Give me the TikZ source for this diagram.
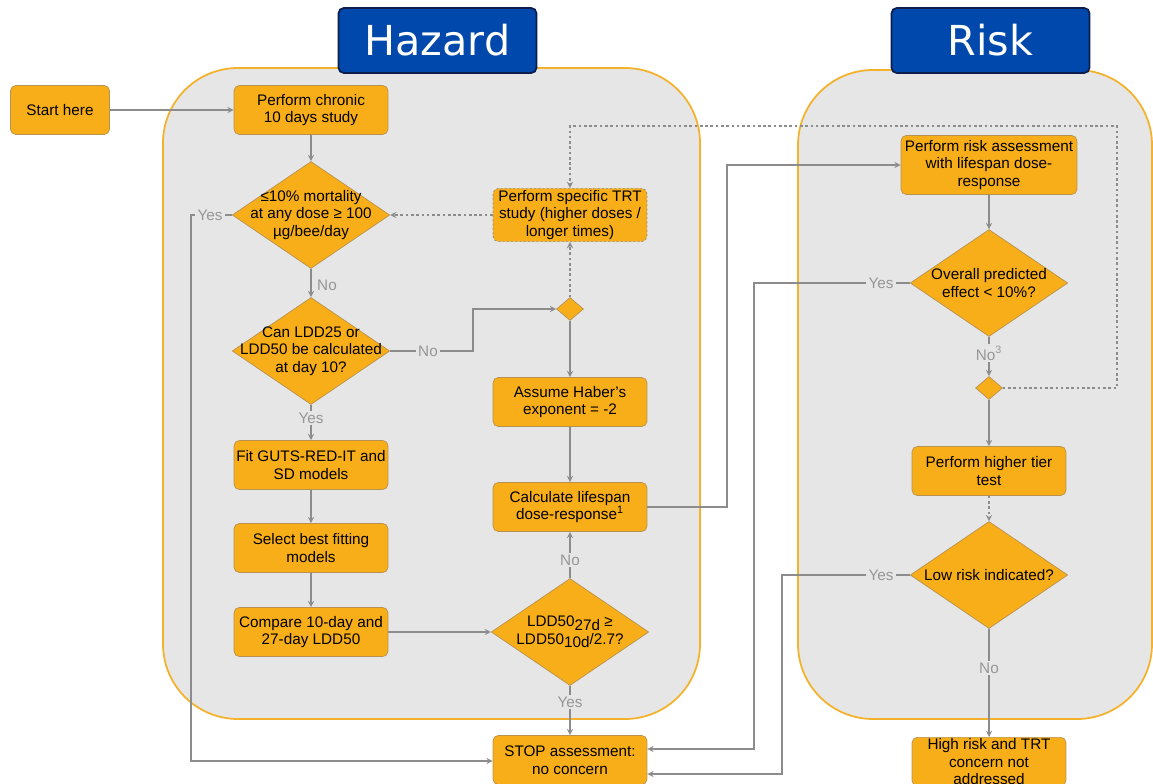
\documentclass[tikz,border=0pt]{standalone}
\usepackage{fontspec}
\setmainfont{Liberation Sans}
\newfontfamily\headfont{DejaVu Sans}
\usetikzlibrary{shapes.geometric, arrows}

\definecolor{boxfill}{RGB}{248,174,24}
\definecolor{boxedge}{RGB}{184,146,80}
\definecolor{panelfill}{RGB}{230,230,230}
\definecolor{paneledge}{RGB}{244,178,44}
\definecolor{titlefill}{RGB}{0,72,171}
\definecolor{titleedge}{RGB}{12,30,78}
\definecolor{linegray}{RGB}{140,140,140}
\definecolor{labelgray}{RGB}{150,150,150}

\begin{document}
\begin{tikzpicture}[x=0.02cm, y=-0.02cm, every node/.style={font=\fontsize{8.7}{10.1}\selectfont}]

% Define styles for the flowchart
\tikzstyle{panel} = [draw=paneledge, line width=1pt, fill=panelfill, rounded corners=1.5cm]
\tikzstyle{heading} = [rectangle, rounded corners=3pt, draw=titleedge, line width=1pt, fill=titlefill, text=white, minimum width=3.96cm, minimum height=1.3cm, font=\headfont\fontsize{23.5}{26}\selectfont]
\tikzstyle{process} = [rectangle, rounded corners=3pt, minimum width=3.08cm, minimum height=0.98cm, inner sep=1pt, align=center, draw=boxedge, fill=boxfill]
\tikzstyle{decision} = [diamond, minimum width=3.15cm, minimum height=2.14cm, inner sep=0pt, draw=boxedge, fill=boxfill]
\tikzstyle{junction} = [diamond, minimum width=0.54cm, minimum height=0.46cm, inner sep=0pt, draw=boxedge, fill=boxfill]
\tikzstyle{dtext} = [align=center]
\tikzstyle{lbl} = [text=labelgray, fill=panelfill, inner sep=1pt]
\tikzstyle{line} = [draw=linegray, line width=0.6pt]
\tikzstyle{arrow} = [line, ->, >=stealth]
\tikzstyle{dotarrow} = [arrow, dash pattern=on 1.5pt off 1.5pt]

\useasboundingbox (0,0) rectangle (1153,784);
\clip (0,0) rectangle (1153,784);

% Panels
\draw [panel] (163,68) rectangle (700,719);
\draw [panel] (798,70) rectangle (1152,719);
\node (hazard) [heading] at (437.5,40.5) {Hazard};
\node (risk) [heading] at (990.5,40.5) {Risk};

% Nodes
\node (start) [process, minimum width=1.98cm] at (60,110) {Start here};
\node (chronic) [process] at (311,110) {Perform chronic\\10 days study};
\node (mort) [decision, label={[dtext]center:{≤10\% mortality\\at any dose ≥ 100\\µg/bee/day}}] at (311,215) {};
\node (ldd) [decision, label={[dtext]center:{Can LDD25 or\\LDD50 be calculated\\at day 10?}}] at (311,351) {};
\node (fit) [process] at (311,465) {Fit GUTS-RED-IT and\\SD models};
\node (select) [process] at (311,548) {Select best fitting\\models};
\node (compare) [process] at (311,632) {Compare 10-day and\\27-day LDD50};
\node (trt) [process, draw=linegray, dash pattern=on 1.2pt off 1.2pt] at (570,215) {Perform specific TRT\\study (higher doses /\\longer times)};
\node (hub1) [junction] at (570,309) {};
\node (haber) [process] at (570,402) {Assume Haber's\\exponent = -2};
\node (calc) [process] at (570,507) {Calculate lifespan\\dose-response\textsuperscript{1}};
\node (ratio) [decision, label={[dtext]center:{LDD50\raisebox{-0.4ex}{27d} ≥\\LDD50\raisebox{-0.4ex}{10d}/2.7?}}] at (570,632) {};
\node (stop) [process] at (570,760) {STOP assessment:\\no concern};
\node (assess) [process, minimum width=3.52cm, minimum height=1.18cm] at (989,165) {Perform risk assessment\\with lifespan dose-\\response};
\node (overall) [decision, label={[dtext]center:{Overall predicted\\effect < 10\%?}}] at (989,283) {};
\node (hub2) [junction] at (989,388) {};
\node (higher) [process] at (989,471) {Perform higher tier\\test};
\node (low) [decision, label={[dtext]center:{Low risk indicated?}}] at (989,575) {};
\node (high) [process, anchor=north, minimum height=0pt, inner ysep=0.5pt] at (989,737) {High risk and TRT\\concern not\\addressed};

% Labels
\node (noM) [lbl, fill=none] at (327,285) {No};
\node (yesA) [lbl] at (210,215) {Yes};
\node (noA) [lbl] at (428,351) {No};
\node (yesB) [lbl] at (311,418) {Yes};
\node (noB) [lbl] at (570,560) {No};
\node (yesC) [lbl] at (570,702) {Yes};
\node (yesD) [lbl] at (881,283) {Yes};
\node (noD) [lbl] at (989,353) {No\textsuperscript{3}};
\node (yesE) [lbl] at (881,575) {Yes};
\node (noE) [lbl] at (989,668) {No};

\coordinate (cA) at (191,761);
\coordinate (cB) at (473,351);
\coordinate (cC) at (727,507);
\coordinate (cD) at (754,749);
\coordinate (cE) at (1117,126);
\coordinate (cF) at (782,774);

% Arrows
\draw [arrow] (start) -- (chronic);
\draw [arrow] (chronic) -- (mort);
\draw [arrow] (mort) -- (ldd);
\draw [line] (mort) -- (yesA);
\draw [arrow] (yesA) -| (cA) -- (stop.west |- cA);
\draw [line] (ldd) -- (yesB);
\draw [arrow] (yesB) -- (fit);
\draw [arrow] (fit) -- (select);
\draw [arrow] (select) -- (compare);
\draw [arrow] (compare) -- (ratio);
\draw [line] (ratio) -- (yesC);
\draw [arrow] (yesC) -- (stop);
\draw [line] (ratio) -- (noB);
\draw [arrow] (noB) -- (calc);
\draw [line] (ldd) -- (noA);
\draw [arrow] (noA) -- (cB) |- (hub1);
\draw [arrow] (hub1) -- (haber);
\draw [dotarrow] (hub1) -- (trt);
\draw [dotarrow] (trt) -- (mort);
\draw [arrow] (haber) -- (calc);
\draw [arrow] (calc) -- (cC) |- (assess);
\draw [arrow] (assess) -- (overall);
\draw [line] (overall) -- (yesD);
\draw [arrow] (yesD) -| (cD) -- (stop.east |- cD);
\draw [line] (overall) -- (noD);
\draw [arrow] (noD) -- (hub2);
\draw [dotarrow] (hub2) -| (cE) -| (trt);
\draw [arrow] (hub2) -- (higher);
\draw [dotarrow] (higher) -- (low);
\draw [line] (low) -- (yesE);
\draw [arrow] (yesE) -| (cF) -- (stop.east |- cF);
\draw [line] (low) -- (noE);
\draw [arrow] (noE) -- (high);

\end{tikzpicture}
\end{document}
